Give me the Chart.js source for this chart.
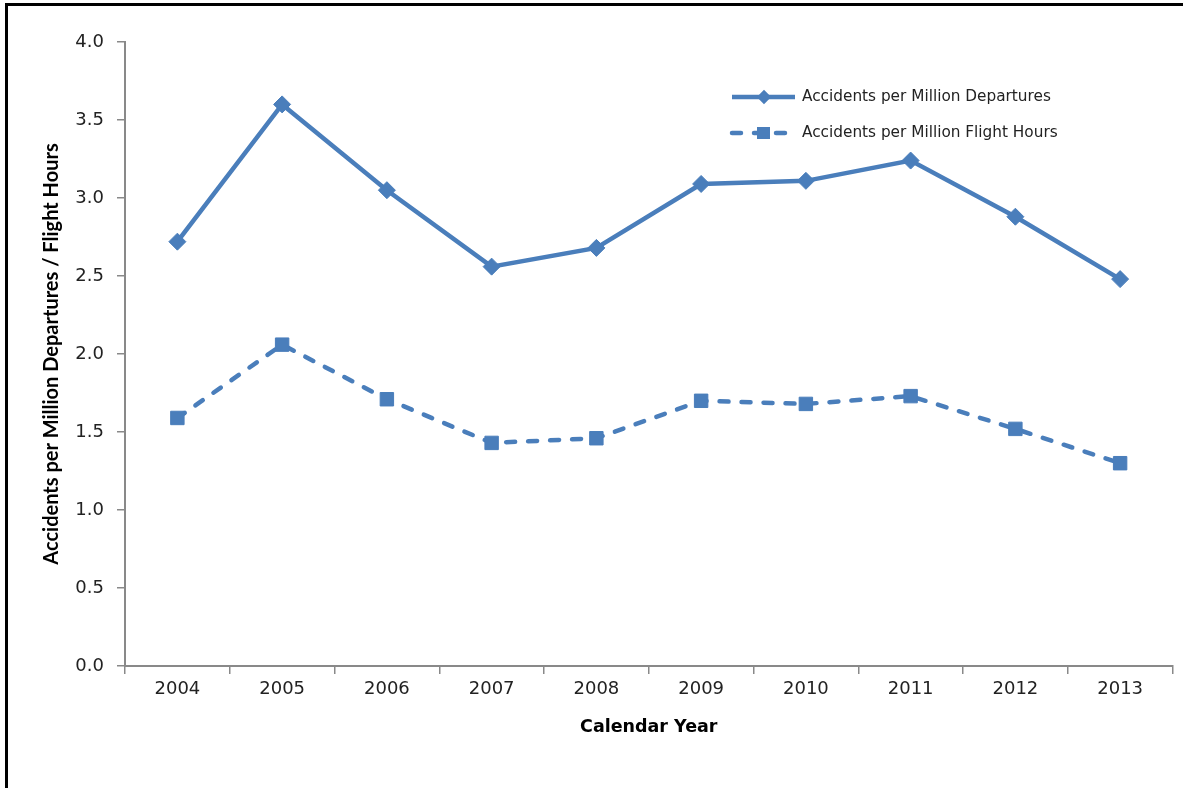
<!DOCTYPE html>
<html>
<head>
<meta charset="utf-8">
<script src="https://cdn.jsdelivr.net/npm/chart.js@4"></script>
<style>
  html, body { margin: 0; padding: 0; background: #fff; overflow: hidden; }
  canvas { display: block; }
</style>
</head>
<body>
<canvas id="accidentChart" width="1183" height="788"></canvas>
<script>
const years = ['2004', '2005', '2006', '2007', '2008', '2009', '2010', '2011', '2012', '2013'];
const perDepartures = [2.72, 3.60, 3.05, 2.56, 2.68, 3.09, 3.11, 3.24, 2.88, 2.48];
const perFlightHours = [1.59, 2.06, 1.71, 1.43, 1.46, 1.70, 1.68, 1.73, 1.52, 1.30];
const seriesNames = ['Accidents per Million Departures', 'Accidents per Million Flight Hours'];

const blue = '#4a7ebb';
const axisGray = '#898989';
const textColor = '#222';

// black frame along the top and left edges
const pageFrame = {
    id: 'pageFrame',
    afterDraw(chart) {
        const ctx = chart.ctx;
        ctx.save();
        ctx.strokeStyle = '#000';
        ctx.lineWidth = 3;
        ctx.beginPath();
        ctx.moveTo(6.5, chart.height);
        ctx.lineTo(6.5, 4.5);
        ctx.lineTo(chart.width, 4.5);
        ctx.stroke();
        ctx.restore();
    }
};

// legend drawn inside the plot, top right
const innerLegend = {
    id: 'innerLegend',
    afterDraw(chart) {
        const ctx = chart.ctx;
        const area = chart.chartArea;
        const x0 = area.left + 605;
        const rows = [area.top + 55, area.top + 91];
        ctx.save();
        chart.data.datasets.forEach(function(ds, i) {
            const y = rows[i];
            ctx.strokeStyle = ds.borderColor;
            ctx.lineWidth = ds.borderWidth;
            ctx.lineCap = ds.borderCapStyle || 'butt';
            ctx.setLineDash(ds.borderDash ? [9, 13] : []);
            ctx.beginPath();
            ctx.moveTo(x0 + 2, y);
            ctx.lineTo(x0 + 65, y);
            ctx.stroke();
            ctx.setLineDash([]);
            ctx.fillStyle = ds.borderColor;
            if (ds.pointStyle === 'rectRot') {
                Chart.helpers.drawPoint(ctx, { pointStyle: 'rectRot', radius: 4, borderWidth: 1 }, x0 + 34, y);
                ctx.fill();
            } else {
                ctx.fillRect(x0 + 27, y - 6, 13, 12);
            }
            ctx.fillStyle = textColor;
            ctx.font = '15.3px "DejaVu Sans"';
            ctx.textBaseline = 'middle';
            ctx.textAlign = 'left';
            ctx.fillText(ds.label, x0 + 72, y);
        });
        ctx.restore();
    }
};

const ctx = document.getElementById('accidentChart').getContext('2d');

new Chart(ctx, {
    type: 'line',
    data: {
        labels: years,
        datasets: [{
            label: seriesNames[0],
            data: perDepartures,
            borderColor: blue,
            backgroundColor: blue,
            borderWidth: 4.5,
            pointStyle: 'rectRot',
            pointRadius: 8.5,
            pointBorderWidth: 1,
            tension: 0
        }, {
            label: seriesNames[1],
            data: perFlightHours,
            borderColor: blue,
            backgroundColor: blue,
            borderWidth: 4.5,
            borderDash: [9, 13],
            borderCapStyle: 'round',
            pointStyle: 'rect',
            pointRadius: 9.5,
            pointBorderWidth: 1,
            tension: 0
        }]
    },
    options: {
        responsive: false,
        animation: false,
        layout: { padding: { left: 0, right: 8, top: 42, bottom: 0 } },
        plugins: {
            legend: { display: false },
            tooltip: { enabled: false }
        },
        scales: {
            x: {
                offset: true,
                afterFit(scale) { scale.height = 122; },
                grid: {
                    offset: true,
                    drawOnChartArea: false,
                    drawTicks: true,
                    tickLength: 8,
                    color: axisGray,
                    lineWidth: 1.5
                },
                border: { display: true, color: axisGray, width: 2 },
                ticks: {
                    color: textColor,
                    padding: 5,
                    maxRotation: 0,
                    font: { family: 'DejaVu Sans', size: 18 }
                },
                title: {
                    display: true,
                    text: 'Calendar Year',
                    color: '#000',
                    padding: { top: 0, bottom: 50 },
                    font: { family: 'DejaVu Sans', size: 17.5, weight: 'bold' }
                }
            },
            y: {
                min: 0,
                max: 4,
                afterFit(scale) { scale.width = 125; },
                grid: {
                    drawOnChartArea: false,
                    drawTicks: true,
                    tickLength: 8,
                    color: axisGray,
                    lineWidth: 1.5
                },
                border: { display: true, color: axisGray, width: 2 },
                ticks: {
                    stepSize: 0.5,
                    color: textColor,
                    padding: 13,
                    font: { family: 'DejaVu Sans', size: 18 },
                    callback: function(v) { return v.toFixed(1); }
                },
                title: {
                    display: true,
                    text: 'Accidents per Million Departures / Flight Hours',
                    color: '#000',
                    padding: { top: 40, bottom: 0 },
                    font: { family: 'Lato', size: 20, weight: 'bold' }
                }
            }
        }
    },
    plugins: [pageFrame, innerLegend]
});
</script>
</body>
</html>
